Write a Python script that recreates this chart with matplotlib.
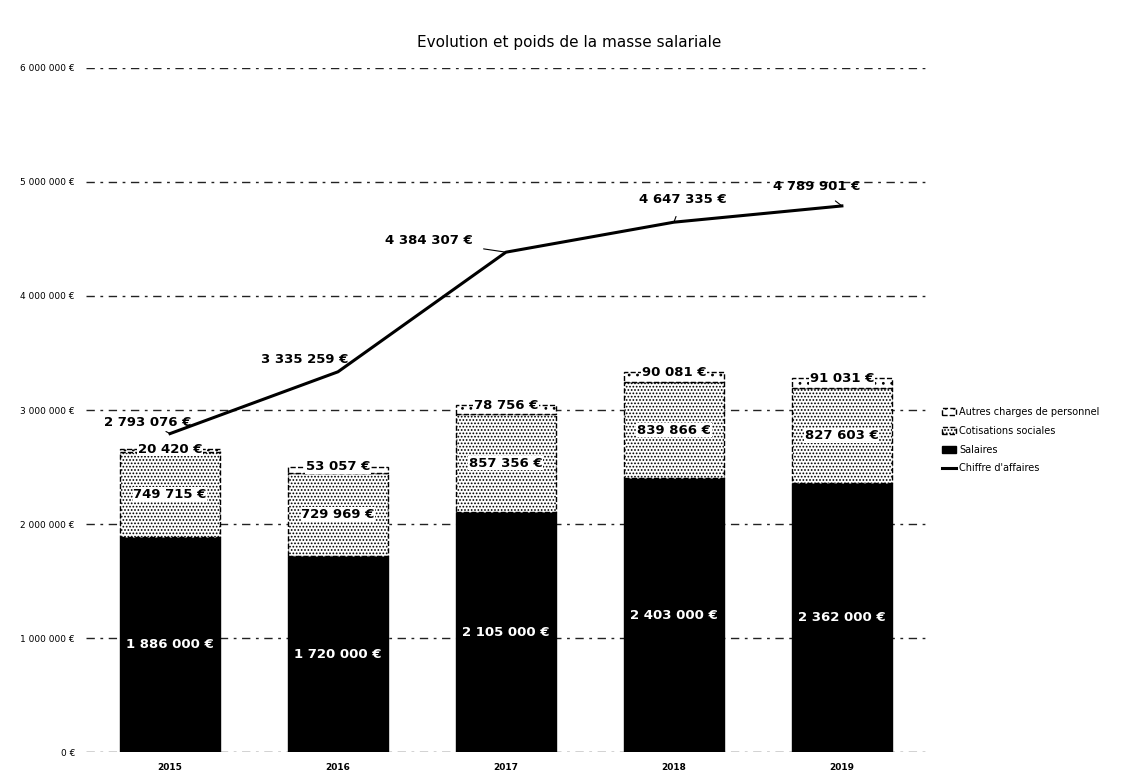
import matplotlib
matplotlib.use("Agg")
import matplotlib.pyplot as plt
import numpy as np

years = ["2015", "2016", "2017", "2018", "2019"]
salaires = [1886000, 1720000, 2105000, 2403000, 2362000]
cotisations = [749715, 729969, 857356, 839866, 827603]
autres = [20420, 53057, 78756, 90081, 91031]
chiffre = [2793076, 3335259, 4384307, 4647335, 4789901]
yticks = [0, 1000000, 2000000, 3000000, 4000000, 5000000, 6000000]


def fmt(v):
    return f"{v:,.0f}".replace(",", " ") + " €"


plt.rcParams['font.family'] = ['DejaVu Sans']
plt.rcParams['hatch.linewidth'] = 0.8

fig = plt.figure(figsize=(11.38, 7.81), dpi=100)
ax = fig.add_axes([0.0756, 0.037, 0.738, 0.876])

x = np.arange(len(years))
w = 0.6
sal = np.array(salaires)
cot = np.array(cotisations)
aut = np.array(autres)

for y in yticks:
    ax.axhline(y, color='#222222', lw=1.0, ls=(0, (6, 4, 2, 4)), zorder=0)

b1 = ax.bar(x, sal, w, color='black', edgecolor='black', label='Salaires', zorder=2)
b2 = ax.bar(x, cot, w, bottom=sal, color='white', edgecolor='black', hatch='.....',
            lw=1.0, ls='--', label='Cotisations sociales', zorder=2)
b3 = ax.bar(x, aut, w, bottom=sal + cot, color='white', edgecolor='black', hatch='..',
            lw=1.0, ls='--', label='Autres charges de personnel', zorder=2)
ln, = ax.plot(x, chiffre, color='black', lw=2.2, label="Chiffre d'affaires", zorder=3)

for i in range(len(years)):
    ax.text(x[i], sal[i] / 2, fmt(sal[i]), ha='center', va='center',
            color='white', fontsize=9.5, fontweight='bold', zorder=4)
    ax.text(x[i], sal[i] + cot[i] / 2, fmt(cot[i]), ha='center', va='center',
            color='black', fontsize=9.5, fontweight='bold', zorder=4,
            bbox=dict(facecolor='white', edgecolor='none', pad=0.5))
    ax.text(x[i], sal[i] + cot[i] + aut[i], fmt(aut[i]), ha='center', va='center',
            color='black', fontsize=9.5, fontweight='bold', zorder=4,
            bbox=dict(facecolor='white', edgecolor='none', pad=0.5))

offsets = [(-0.13, 100000), (-0.2, 110000), (-0.46, 100000), (0.05, 200000), (-0.15, 170000)]
for i, (dx, dy) in enumerate(offsets):
    ax.annotate(fmt(chiffre[i]), xy=(x[i], chiffre[i]), xytext=(x[i] + dx, chiffre[i] + dy),
                ha='center', va='center', fontsize=9.5, fontweight='bold', zorder=5,
                arrowprops=dict(arrowstyle='-', color='black', lw=0.8, shrinkA=6, shrinkB=0))

ax.set_xlim(-0.5, 4.5)
ax.set_ylim(0, 6000000)
ax.set_yticks(yticks)
ax.set_yticklabels([fmt(v) for v in yticks], fontsize=6.5)
ax.set_xticks(x)
ax.set_xticklabels(years, fontsize=6.5, fontweight='bold')
ax.tick_params(length=0, pad=8)
for s in ax.spines.values():
    s.set_visible(False)

fig.text(0.5, 0.945, "Evolution et poids de la masse salariale", ha='center', va='center', fontsize=11)

fig.legend([b3, b2, b1, ln], ['Autres charges de personnel', 'Cotisations sociales', 'Salaires', "Chiffre d'affaires"],
           loc='upper left', bbox_to_anchor=(0.82, 0.49), frameon=False, fontsize=7,
           handlelength=1.5, handletextpad=0.3, labelspacing=0.9)

fig.savefig("out.png", dpi=100)
